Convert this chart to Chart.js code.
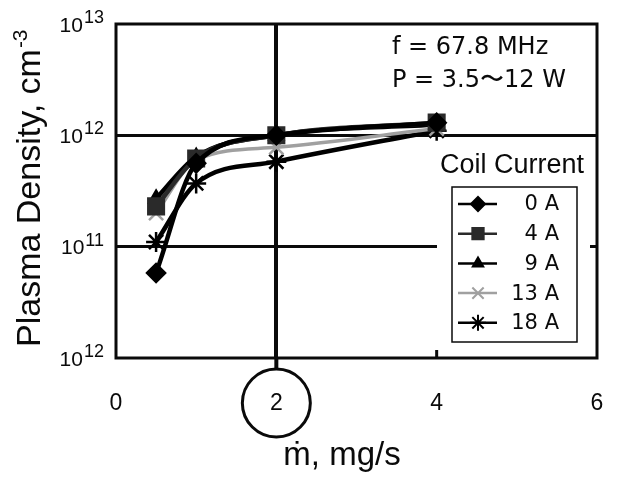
<!DOCTYPE html>
<html>
<head>
<meta charset="utf-8">
<script src="https://cdn.jsdelivr.net/npm/chart.js@4.4.1/dist/chart.umd.min.js"></script>
<style>
  html, body { margin: 0; padding: 0; background: #fff; }
  canvas { display: block; }
</style>
</head>
<body>
<canvas id="chart" width="617" height="479"></canvas>
<script>
// mass flow rate, mg/s
const massFlow = [0.5, 1, 2, 4];
// plasma density, cm^-3, one list per coil current
const coilLabels = ["0 A", "4 A", "9 A", "13 A", "18 A"];
const density0A = [5.8e10, 5.6e11, 1.0e12, 1.3e12];
const density4A = [2.3e11, 6.2e11, 1.0e12, 1.3e12];
const density9A = [2.7e11, 6.4e11, 1.0e12, 1.25e12];
const density13A = [2.0e11, 6.0e11, 7.8e11, 1.15e12];
const density18A = [1.1e11, 3.7e11, 5.8e11, 1.1e12];

const xTicks = [0, 2, 4, 6];
const yTicks = [1e10, 1e11, 1e12, 1e13];
const yTickExp = ["12", "11", "12", "13"]; // bottom one printed as 10^12 in the original

const TEXT = "#0a0a0a";
const SANS = '"Liberation Sans", Arial, sans-serif';
const WIDE = '"DejaVu Sans", sans-serif';

const pts = (ys) => massFlow.map((x, i) => ({ x, y: ys[i] }));

const datasets = [
  { label: coilLabels[0], data: pts(density0A), color: "#000", style: "rectRot", r: 9, lr: 7, lw: 4.5 },
  { label: coilLabels[1], data: pts(density4A), color: "#2a2a2a", style: "rect", r: 11, lr: 8, lw: 4.5 },
  { label: coilLabels[2], data: pts(density9A), color: "#000", style: "triangle", r: 8, lr: 6, lw: 4.5 },
  { label: coilLabels[3], data: pts(density13A), color: "#a0a0a0", style: "crossRot", r: 10, lr: 8, lw: 3.5 },
  { label: coilLabels[4], data: pts(density18A), color: "#000", style: "star", r: 10, lr: 8, lw: 4.5 },
].map((d) => ({
  label: d.label,
  data: d.data,
  borderColor: d.color,
  backgroundColor: d.color,
  borderWidth: d.lw,
  pointStyle: d.style,
  pointRadius: d.r,
  pointBorderWidth: 2.5,
  pointBorderColor: d.color,
  pointBackgroundColor: d.color,
  cubicInterpolationMode: "monotone",
  legendRadius: d.lr,
}));

const decor = {
  id: "decor",
  beforeDatasetsDraw(chart) {
    const { ctx, chartArea: a, scales: { x } } = chart;
    ctx.save();
    ctx.strokeStyle = TEXT;
    ctx.lineWidth = 3;
    ctx.strokeRect(a.left, a.top, a.right - a.left, a.bottom - a.top);
    // x = 2 line runs on below the axis into the circle
    const x2 = x.getPixelForValue(2);
    ctx.lineWidth = 4;
    ctx.beginPath();
    ctx.moveTo(x2, a.bottom);
    ctx.lineTo(x2, a.bottom + 12);
    ctx.stroke();
    // small inner tick at x = 4
    const x4 = x.getPixelForValue(4);
    ctx.lineWidth = 3;
    ctx.beginPath();
    ctx.moveTo(x4, a.bottom);
    ctx.lineTo(x4, a.bottom - 8);
    ctx.stroke();
    ctx.restore();
  },
  afterDatasetsDraw(chart) {
    const { ctx } = chart;
    ctx.save();
    ctx.fillStyle = TEXT;
    ctx.textBaseline = "middle";
    ctx.textAlign = "left";
    ctx.font = "24px " + WIDE;
    ctx.fillText("f = 67.8 MHz", 392, 48);
    ctx.fillText("P = 3.5\u301C12 W", 392, 81);

    // legend
    ctx.fillStyle = "#fff";
    ctx.fillRect(437, 146, 153, 204);
    ctx.fillStyle = TEXT;
    ctx.textAlign = "center";
    ctx.font = "27px " + SANS;
    ctx.fillText("Coil Current", 512, 166);
    ctx.strokeStyle = TEXT;
    ctx.lineWidth = 1.5;
    ctx.strokeRect(452, 187, 125, 155);
    ctx.font = "21px " + WIDE;
    ctx.textAlign = "right";
    chart.data.datasets.forEach((ds, i) => {
      const yy = 204 + i * 29.7;
      ctx.strokeStyle = ds.borderColor;
      ctx.lineWidth = 2.5;
      ctx.beginPath();
      ctx.moveTo(458, yy);
      ctx.lineTo(497, yy);
      ctx.stroke();
      ctx.fillStyle = ds.pointBackgroundColor;
      ctx.lineWidth = 2;
      Chart.helpers.drawPoint(ctx, { pointStyle: ds.pointStyle, radius: ds.legendRadius, rotation: 0, borderWidth: 2 }, 478, yy);
      ctx.fillStyle = TEXT;
      ctx.fillText(ds.label, 559, yy + 1);
    });
    ctx.restore();
  },
  afterDraw(chart) {
    const { ctx, scales: { x, y } } = chart;
    ctx.save();
    ctx.fillStyle = TEXT;
    ctx.strokeStyle = TEXT;
    ctx.textBaseline = "middle";

    // y tick labels: 10 with superscript
    yTicks.forEach((v, i) => {
      const py = y.getPixelForValue(v);
      ctx.textAlign = "right";
      ctx.font = "18px " + SANS;
      const supW = ctx.measureText(yTickExp[i]).width;
      ctx.fillText(yTickExp[i], 104, py - 6);
      ctx.font = "21px " + SANS;
      ctx.fillText("10", 103 - supW, py + 2);
    });

    // x tick labels
    ctx.textAlign = "center";
    ctx.font = "23px " + SANS;
    xTicks.forEach((v) => ctx.fillText(String(v), x.getPixelForValue(v), 404));

    // circle round the 2
    ctx.lineWidth = 3;
    ctx.beginPath();
    ctx.arc(x.getPixelForValue(2), 403, 34, 0, Math.PI * 2);
    ctx.stroke();

    // x title
    ctx.font = "33px " + SANS;
    ctx.fillText("\u1E41, mg/s", 342, 456);

    // y title, rotated, with superscript
    ctx.translate(40, 347);
    ctx.rotate(-Math.PI / 2);
    ctx.textAlign = "left";
    ctx.textBaseline = "alphabetic";
    ctx.font = "34px " + SANS;
    const main = "Plasma Density, cm";
    ctx.fillText(main, 0, 0);
    const w = ctx.measureText(main).width;
    ctx.font = "21px " + SANS;
    ctx.fillText("-3", w + 1, -13);
    ctx.restore();
  },
};

new Chart(document.getElementById("chart"), {
  type: "line",
  data: { datasets },
  options: {
    responsive: false,
    animation: false,
    events: [],
    layout: { padding: { left: 116, top: 24, right: 20, bottom: 121 } },
    plugins: { legend: { display: false }, tooltip: { enabled: false } },
    scales: {
      x: {
        type: "linear",
        min: 0,
        max: 6,
        afterBuildTicks: (s) => { s.ticks = xTicks.map((v) => ({ value: v })); },
        ticks: { display: false },
        border: { display: false },
        grid: {
          drawTicks: false,
          lineWidth: 4,
          color: (c) => (c.tick && c.tick.value === 2 ? TEXT : "rgba(0,0,0,0)"),
        },
      },
      y: {
        type: "logarithmic",
        min: 1e10,
        max: 1e13,
        afterBuildTicks: (s) => { s.ticks = yTicks.map((v) => ({ value: v })); },
        ticks: { display: false },
        border: { display: false },
        grid: {
          drawTicks: false,
          lineWidth: 3,
          color: (c) => (c.tick && (c.tick.value === 1e11 || c.tick.value === 1e12) ? TEXT : "rgba(0,0,0,0)"),
        },
      },
    },
  },
  plugins: [decor],
});
</script>
</body>
</html>
